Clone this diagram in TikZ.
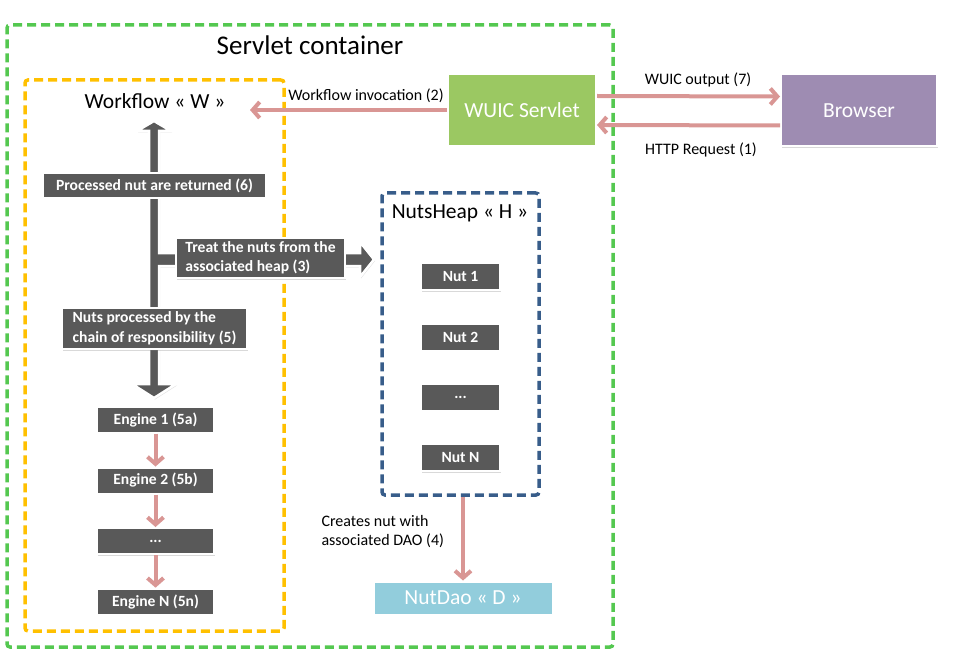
\documentclass[tikz,border=0pt]{standalone}
\usepackage{fontspec}
\setmainfont{Carlito}
\usetikzlibrary{arrows.meta,shadows}

\definecolor{contgreen}{RGB}{84,200,80}
\definecolor{wfyellow}{RGB}{255,192,0}
\definecolor{heapblue}{RGB}{56,93,138}
\definecolor{boxgray}{RGB}{89,89,89}
\definecolor{flowpink}{RGB}{217,150,148}
\definecolor{wuicgreen}{RGB}{155,200,98}
\definecolor{browserpurple}{RGB}{158,140,178}
\definecolor{daoblue}{RGB}{146,205,220}

\tikzset{
  container/.style={draw, line width=3.5pt, dash pattern=on 9pt off 5pt, rounded corners=3pt},
  title/.style={font=\fontsize{21.5}{26}\selectfont},
  note/.style={font=\fontsize{16}{19}\selectfont},
  darkbox/.style={fill=boxgray, draw=white, line width=2pt, text=white,
    font=\bfseries\fontsize{15.6}{19.5}\selectfont, inner sep=3pt,
    drop shadow={opacity=0.3, shadow xshift=1pt, shadow yshift=-1.5pt}},
  enginebox/.style={minimum width=117, minimum height=26},
  nutbox/.style={minimum width=79, minimum height=27},
  bigbox/.style={draw=white, line width=2pt, text=white,
    font=\fontsize{21.5}{26}\selectfont,
    drop shadow={opacity=0.3, shadow xshift=1pt, shadow yshift=-1.5pt}},
  flow/.style={draw=flowpink, line width=4pt, -{Straight Barb[length=7pt,width=16pt]}},
  bigarrow/.style={fill=boxgray, draw=white, line width=2.5pt,
    drop shadow={opacity=0.25, shadow xshift=1pt, shadow yshift=-1.5pt}}
}

\begin{document}
\begin{tikzpicture}[x=1pt,y=-1pt]
    \useasboundingbox (0,0) rectangle (960,660);

    % containers
    \node[container, draw=contgreen, minimum width=606, minimum height=622] (servlet) at (310,336) {};
    \node[font=\fontsize{27}{32}\selectfont] (servlettitle) at (310,45) {Servlet container};

    \node[container, draw=wfyellow, minimum width=259, minimum height=551] (workflow) at (154.5,355.5) {};
    \node[title] (wftitle) at (155,101) {Workflow « W »};

    \node[container, draw=heapblue, minimum width=157, minimum height=302] (heap) at (460.5,344) {};
    \node[title] (heaptitle) at (460,213) {NutsHeap « H »};

    % main flow arrow
    \filldraw[bigarrow] (154,121) -- (171,131) -- (159,131) -- (159,253) -- (360,253)
        -- (360,242) -- (374,259.5) -- (360,277) -- (360,266) -- (159,266) -- (159,384)
        -- (176,384) -- (154,398) -- (132,384) -- (149,384) -- (149,131) -- (137,131) -- cycle;

    \node[darkbox, minimum width=223, minimum height=25] (returned) at (154.5,185.5) {Processed nut are returned (6)};
    \node[darkbox, minimum width=169, minimum height=40, align=left] (treat) at (260.5,258) {Treat the nuts from the\\associated heap (3)};
    \node[darkbox, minimum width=185, minimum height=41, align=left] (chain) at (154.5,328.5) {Nuts processed by the\\chain of responsibility (5)};

    % engines
    \node[darkbox, enginebox] (eng1) at (155.5,419.7) {Engine 1 (5a)};
    \node[darkbox, enginebox] (eng2) at (155.5,480.5) {Engine 2 (5b)};
    \node[darkbox, enginebox] (engdots) at (155.5,541) {...};
    \node[darkbox, enginebox] (engN) at (155.5,601.7) {Engine N (5n)};

    \draw[flow] (eng1) -- (eng2);
    \draw[flow] (eng2) -- (engdots);
    \draw[flow] (engdots) -- (engN);

    % nuts
    \node[darkbox, nutbox] (nut1) at (460.5,276.7) {Nut 1};
    \node[darkbox, nutbox] (nut2) at (460.5,337) {Nut 2};
    \node[darkbox, nutbox] (nutdots) at (460.5,397.3) {...};
    \node[darkbox, nutbox] (nutN) at (460.5,457.8) {Nut N};

    % servlet and browser
    \node[bigbox, fill=wuicgreen, minimum width=148, minimum height=72] (wuic) at (522,110) {WUIC Servlet};
    \node[bigbox, fill=browserpurple, minimum width=156, minimum height=72] (browser) at (859,110.5) {Browser};
    \node[bigbox, fill=daoblue, minimum width=179, minimum height=33] (dao) at (463,598) {NutDao « D »};

    \coordinate (wfin) at (250,110);
    \draw[flow] (wuic) -- (wfin);
    \draw[flow] ([yshift=14pt]wuic.east) -- ([yshift=14pt]browser.west);
    \draw[flow] ([yshift=-15pt]browser.west) -- ([yshift=-15pt]wuic.east);
    \draw[flow] (heap.south -| dao.north) -- (dao.north);

    \node[note] (invlabel) at (366,96) {Workflow invocation (2)};
    \node[note] (outlabel) at (698,80) {WUIC output (7)};
    \node[note] (reqlabel) at (701,150) {HTTP Request (1)};
    \node[note, align=left, anchor=west] (daolabel) at (318,532) {Creates nut with\\associated DAO (4)};

\end{tikzpicture}
\end{document}
